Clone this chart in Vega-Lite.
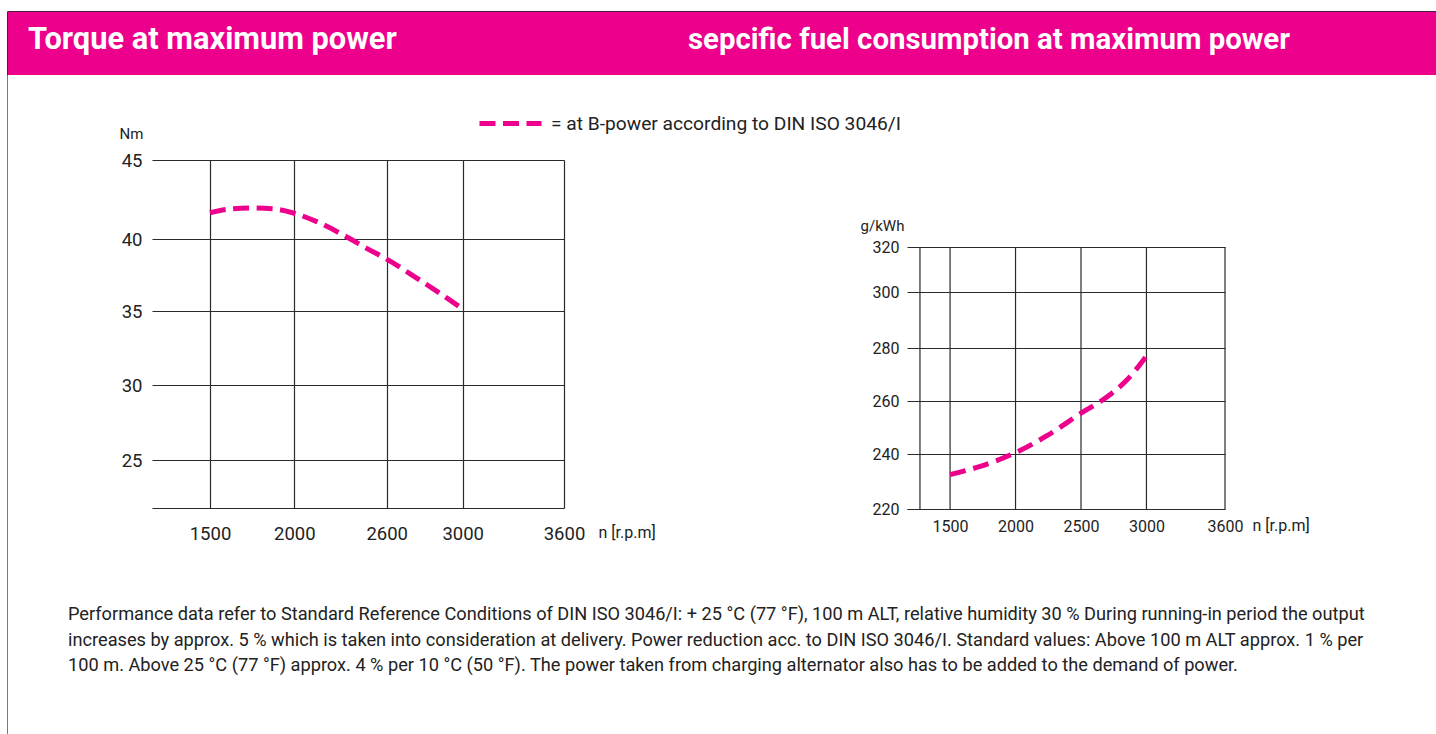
{
  "$schema": "https://vega.github.io/schema/vega-lite/v6.json",
  "padding": {"left": 7, "top": 11, "right": 0, "bottom": 0},
  "background": "white",
  "bounds": "flush",
  "spacing": 0,
  "columns": 5,
  "align": {"row": "none", "column": "none"},
  "resolve": {"scale": {"color": "independent"}, "legend": {"color": "independent"}},
  "config": {
    "font": "Roboto",
    "view": {"stroke": null},
    "axis": {
      "labelColor": "#222222", "titleColor": "#222222",
      "gridColor": "#2a2a2a", "gridWidth": 1.2, "gridOpacity": 1,
      "domainColor": "#2a2a2a", "domainWidth": 1.2,
      "ticks": false, "tickSize": 0,
      "labelFont": "Roboto", "titleFont": "Roboto",
      "titleFontWeight": "normal", "labelOverlap": false, "labelFlush": false
    },
    "legend": {"labelFont": "Roboto"},
    "title": {"font": "Roboto"}
  },
  "concat": [
    {"width": 1, "height": 1, "data": {"values": []}, "mark": "rect", "view": {"fill": "#7a7a7a", "stroke": null}},
    {"width": 144, "height": 1, "data": {"values": []}, "mark": "rect", "view": {"fill": "#4d1c3d", "stroke": null}},
    {"width": 412, "height": 1, "data": {"values": []}, "mark": "rect", "view": {"fill": "#4d1c3d", "stroke": null}},
    {"width": 343, "height": 1, "data": {"values": []}, "mark": "rect", "view": {"fill": "#4d1c3d", "stroke": null}},
    {"width": 530, "height": 1, "data": {"values": []}, "mark": "rect", "view": {"fill": "#4d1c3d", "stroke": null}},

    {"width": 1, "height": 63, "data": {"values": []}, "mark": "rect", "view": {"fill": "#4d1c3d", "stroke": null}},
    {"width": 144, "height": 63, "data": {"values": []}, "mark": "rect", "view": {"fill": "#EC008C", "stroke": null}},
    {"width": 412, "height": 63, "data": {"values": []}, "mark": "rect", "view": {"fill": "#EC008C", "stroke": null}},
    {"width": 343, "height": 63, "data": {"values": []}, "mark": "rect", "view": {"fill": "#EC008C", "stroke": null}},
    {"width": 530, "height": 63, "data": {"values": []}, "mark": "rect", "view": {"fill": "#EC008C", "stroke": null}},

    {"width": 1, "height": 85, "data": {"values": []}, "mark": "rect", "view": {"fill": "#7a7a7a", "stroke": null}},
    {
      "width": 144, "height": 1, "data": {"values": []}, "mark": "rect",
      "title": {"text": "Torque at maximum power", "orient": "bottom", "anchor": "start", "frame": "group", "offset": -36, "dx": 20, "baseline": "middle", "fontSize": 30.8, "fontWeight": "bold", "color": "#ffffff"}
    },
    {"width": 1, "height": 1, "data": {"values": []}, "mark": "rect"},
    {
      "width": 1, "height": 1, "data": {"values": []}, "mark": "rect",
      "title": {"text": "sepcific fuel consumption at maximum power", "orient": "bottom", "anchor": "start", "frame": "group", "offset": -36, "dx": 124, "baseline": "middle", "fontSize": 29.4, "fontWeight": "bold", "color": "#ffffff"}
    },
    {"width": 1, "height": 1, "data": {"values": []}, "mark": "rect"},

    {"width": 1, "height": 349, "data": {"values": []}, "mark": "rect", "view": {"fill": "#7a7a7a", "stroke": null}},
    {"width": 1, "height": 1, "data": {"values": []}, "mark": "rect"},
    {
      "width": 412, "height": 348,
      "data": {"values": [
        {"rpm": 1500, "torque": 41.66, "series": "= at B-power according to DIN ISO 3046/I"},
        {"rpm": 1600, "torque": 41.88, "series": "= at B-power according to DIN ISO 3046/I"},
        {"rpm": 1750, "torque": 41.96, "series": "= at B-power according to DIN ISO 3046/I"},
        {"rpm": 1880, "torque": 41.9, "series": "= at B-power according to DIN ISO 3046/I"},
        {"rpm": 2000, "torque": 41.63, "series": "= at B-power according to DIN ISO 3046/I"},
        {"rpm": 2145, "torque": 41.1, "series": "= at B-power according to DIN ISO 3046/I"},
        {"rpm": 2330, "torque": 40.19, "series": "= at B-power according to DIN ISO 3046/I"},
        {"rpm": 2470, "torque": 39.35, "series": "= at B-power according to DIN ISO 3046/I"},
        {"rpm": 2600, "torque": 38.6, "series": "= at B-power according to DIN ISO 3046/I"},
        {"rpm": 2760, "torque": 37.27, "series": "= at B-power according to DIN ISO 3046/I"},
        {"rpm": 2880, "torque": 36.23, "series": "= at B-power according to DIN ISO 3046/I"},
        {"rpm": 3000, "torque": 35.14, "series": "= at B-power according to DIN ISO 3046/I"}
      ]},
      "mark": {"type": "line", "strokeWidth": 5, "strokeDash": [16, 7.5], "interpolate": "monotone"},
      "encoding": {
        "x": {
          "field": "rpm", "type": "quantitative",
          "scale": {"domain": [1160, 1500, 2000, 2600, 3000, 3600], "range": [0, 58, 142.3, 234.7, 310.7, 412], "nice": false, "zero": false},
          "axis": {"values": [1500, 2000, 2600, 3000, 3600], "format": "d", "grid": true, "domain": true, "labelFontSize": 18.5, "labelPadding": 16, "title": "n [r.p.m]", "titleX": 446, "titleY": 24, "titleAlign": "left", "titleBaseline": "middle", "titleFontSize": 16}
        },
        "y": {
          "field": "torque", "type": "quantitative",
          "scale": {"domain": [21.8, 25, 30, 35, 40, 45], "range": [348, 300, 225, 151, 79, 0], "nice": false, "zero": false},
          "axis": {"values": [25, 30, 35, 40, 45], "format": "d", "grid": true, "domain": false, "labelFontSize": 18.5, "labelPadding": 10, "title": "Nm", "titleAngle": 0, "titleX": -21, "titleY": -27, "titleAlign": "center", "titleBaseline": "middle", "titleFontSize": 15}
        },
        "color": {
          "field": "series", "type": "nominal",
          "scale": {"range": ["#EC008C"]},
          "legend": {"title": null, "orient": "none", "legendX": 325, "legendY": -70, "symbolType": "stroke", "symbolSize": 3844, "symbolStrokeWidth": 5, "symbolDash": [16, 7.5], "symbolStrokeColor": "#EC008C", "labelFontSize": 19.2, "labelColor": "#222222", "labelOffset": 7, "padding": 0, "labelLimit": 600}
        }
      }
    },
    {"width": 1, "height": 1, "data": {"values": []}, "mark": "rect"},
    {
      "width": 318, "height": 349,
      "encoding": {
        "x": {
          "field": "rpm", "type": "quantitative",
          "scale": {"domain": [1171, 3600], "nice": false, "zero": false},
          "axis": {"values": [1500, 2000, 2500, 3000, 3600], "format": "d", "grid": false, "domain": true, "labelFontSize": 16, "labelPadding": 9, "title": "n [r.p.m]", "titleX": 345, "titleY": 16, "titleAlign": "left", "titleBaseline": "middle", "titleFontSize": 16}
        },
        "y": {
          "field": "sfc", "type": "quantitative",
          "scale": {"domain": [220, 240, 260, 280, 300, 320], "range": [349, 294, 241, 188, 132, 87], "nice": false, "zero": false},
          "axis": {"values": [220, 240, 260, 280, 300, 320], "format": "d", "grid": true, "domain": false, "labelFontSize": 16, "labelPadding": 8, "title": "g/kWh", "titleAngle": 0, "titleX": -25, "titleY": 65, "titleAlign": "center", "titleBaseline": "middle", "titleFontSize": 15}
        }
      },
      "layer": [
        {
          "data": {"values": [
            {"rpm": 1270, "sfc": 220, "sfc_top": 320},
            {"rpm": 1500, "sfc": 220, "sfc_top": 320},
            {"rpm": 2000, "sfc": 220, "sfc_top": 320},
            {"rpm": 2500, "sfc": 220, "sfc_top": 320},
            {"rpm": 3000, "sfc": 220, "sfc_top": 320},
            {"rpm": 3600, "sfc": 220, "sfc_top": 320}
          ]},
          "mark": {"type": "rule", "color": "#2a2a2a", "strokeWidth": 1.2},
          "encoding": {"y2": {"field": "sfc_top"}}
        },
        {
          "data": {"values": [
            {"rpm": 1500, "sfc": 232.5},
            {"rpm": 1730, "sfc": 235.5},
            {"rpm": 2000, "sfc": 240.5},
            {"rpm": 2240, "sfc": 246.9},
            {"rpm": 2500, "sfc": 255.4},
            {"rpm": 2700, "sfc": 261.6},
            {"rpm": 2850, "sfc": 267.9},
            {"rpm": 3000, "sfc": 277.0}
          ]},
          "mark": {"type": "line", "color": "#EC008C", "strokeWidth": 5, "strokeDash": [16, 8], "interpolate": "monotone"}
        }
      ]
    },

    {"width": 1, "height": 225, "data": {"values": []}, "mark": "rect", "view": {"fill": "#7a7a7a", "stroke": null}},
    {
      "width": 1, "height": 1, "data": {"values": []}, "mark": "rect",
      "title": {
        "text": [
          "Performance data refer to Standard Reference Conditions of DIN ISO 3046/I: + 25 °C (77 °F), 100 m ALT, relative humidity 30 % During running-in period the output",
          "increases by approx. 5 % which is taken into consideration at delivery. Power reduction acc. to DIN ISO 3046/I. Standard values:  Above 100 m ALT approx. 1 % per",
          "100 m.  Above 25 °C (77 °F) approx. 4 % per 10 °C (50 °F).  The power taken from charging alternator also has to be added to the demand of power."
        ],
        "orient": "bottom", "anchor": "start", "frame": "group", "baseline": "top", "offset": 96, "dx": 60,
        "fontSize": 18.2, "lineHeight": 25.5, "fontWeight": "normal", "color": "#222222"
      }
    }
  ]
}
